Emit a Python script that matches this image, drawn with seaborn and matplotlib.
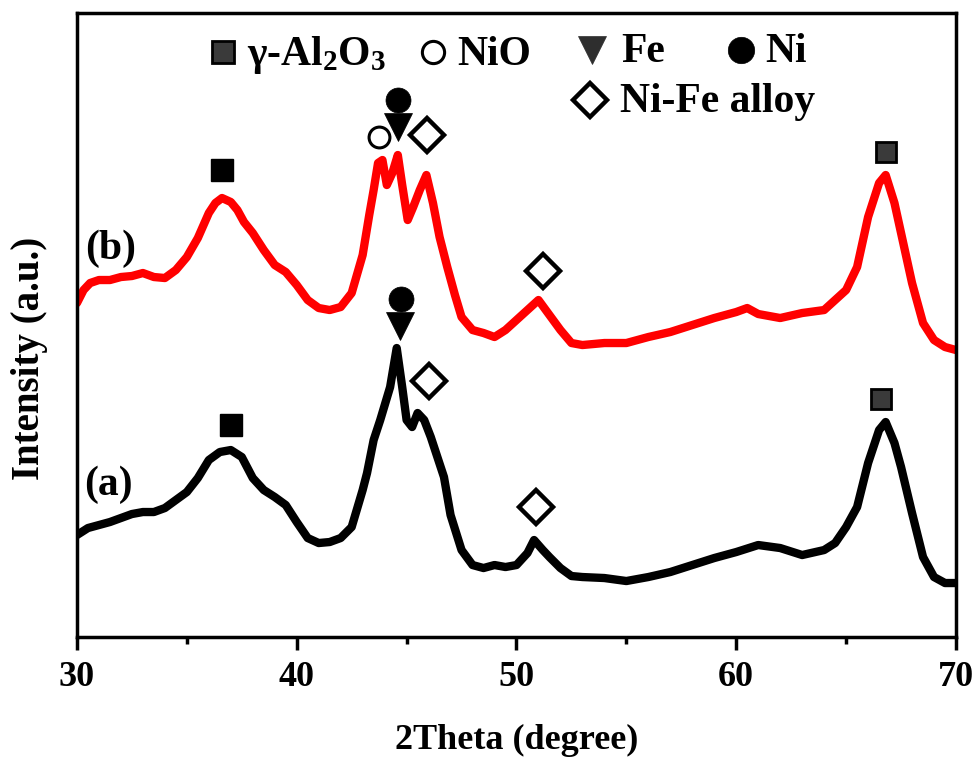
import numpy as np
import pandas as pd
import matplotlib
matplotlib.use("Agg")
import matplotlib.pyplot as plt
import seaborn as sns

# ---------------- data ----------------
two_theta_b = [30.0, 30.3, 30.6, 31.0, 31.5, 32.0, 32.5, 33.0, 33.5, 34.0, 34.5, 35.0, 35.5,
               36.0, 36.3, 36.6, 37.0, 37.3, 37.6, 38.0, 38.5, 39.0, 39.5, 40.0, 40.5, 41.0,
               41.5, 42.0, 42.5, 43.0, 43.3, 43.5, 43.7, 43.9, 44.1, 44.35, 44.6, 44.8, 45.05,
               45.3, 45.6, 45.9, 46.2, 46.5, 46.85, 47.2, 47.5, 48.0, 48.5, 49.0, 49.5, 50.0,
               50.5, 51.0, 51.5, 52.0, 52.5, 53.0, 54.0, 55.0, 56.0, 57.0, 58.0, 59.0, 60.0,
               60.5, 61.0, 62.0, 63.0, 64.0, 64.5, 65.0, 65.5, 66.0, 66.5, 66.8, 67.2, 67.5,
               68.0, 68.5, 69.0, 69.5, 70.0]
intensity_b = [334, 347, 354, 357, 357, 360, 361, 364, 360, 359, 367, 380, 399,
               424, 434, 439, 435, 427, 415, 404, 387, 372, 365, 352, 337, 329,
               327, 330, 344, 382, 422, 447, 474, 477, 452, 464, 482, 452, 417,
               430, 447, 462, 434, 400, 370, 342, 320, 307, 304, 300, 307, 317,
               327, 337, 322, 307, 294, 292, 294, 294, 300, 305, 312, 319, 325,
               329, 323, 319, 324, 327, 337, 347, 370, 420, 454, 462, 434, 404,
               354, 314, 297, 290, 287]

two_theta_a = [30.0, 30.5, 31.0, 31.5, 32.0, 32.5, 33.0, 33.5, 34.0, 34.5, 35.0, 35.5, 36.0,
               36.5, 37.0, 37.5, 38.0, 38.5, 39.0, 39.5, 40.0, 40.5, 41.0, 41.5, 42.0, 42.5,
               43.0, 43.2, 43.5, 43.8, 44.25, 44.55, 44.8, 45.0, 45.25, 45.5, 45.8, 46.1, 46.4,
               46.7, 47.0, 47.5, 48.0, 48.5, 49.0, 49.5, 50.0, 50.5, 50.8, 51.2, 51.5, 52.0,
               52.5, 53.0, 54.0, 55.0, 56.0, 57.0, 58.0, 59.0, 60.0, 61.0, 62.0, 63.0, 64.0,
               64.5, 65.0, 65.5, 66.0, 66.5, 66.8, 67.2, 67.5, 68.0, 68.5, 69.0, 69.5, 70.0]
intensity_a = [102, 109, 112, 115, 119, 123, 125, 125, 129, 137, 145, 159, 177,
               185, 187, 180, 159, 147, 140, 132, 115, 99, 94, 95, 99, 110,
               147, 164, 197, 217, 250, 289, 250, 217, 210, 224, 217, 200, 180,
               160, 122, 87, 72, 69, 72, 70, 72, 84, 97, 87, 80, 69,
               61, 60, 59, 56, 60, 65, 72, 79, 85, 92, 89, 82, 87,
               94, 110, 130, 174, 207, 215, 194, 170, 124, 80, 60, 54, 54]

# phase markers placed above the peaks: (phase, 2theta, height)
marks_b_phase = ["Al2O3_dark", "NiO", "Fe", "Ni", "alloy", "alloy", "Al2O3"]
marks_b_x = [36.6, 43.76, 44.6, 44.6, 45.95, 51.2, 66.8]
marks_b_y = [467, 500, 510, 537, 502, 366, 485]

marks_a_phase = ["Al2O3_dark", "Ni", "Fe", "alloy", "alloy", "Al2O3"]
marks_a_x = [37.0, 44.75, 44.7, 46.0, 50.87, 66.6]
marks_a_y = [212, 338, 311, 256, 130, 238]

legend_labels = [r"γ-Al$_\mathbf{2}$O$_\mathbf{3}$", "NiO", "Fe", "Ni", "Ni-Fe alloy"]
pattern_labels = ["(b)", "(a)"]
x_ticks = [30, 40, 50, 60, 70]

# ---------------- styling ----------------
sns.set_style("ticks")
plt.rcParams["font.family"] = ["Liberation Serif", "DejaVu Serif"]
plt.rcParams["font.weight"] = "bold"
plt.rcParams["mathtext.fontset"] = "custom"
plt.rcParams["mathtext.rm"] = "Liberation Serif:bold"
plt.rcParams["mathtext.bf"] = "Liberation Serif:bold"
plt.rcParams["mathtext.it"] = "Liberation Serif:bold"
for key in ["text.color", "axes.labelcolor", "xtick.color", "ytick.color",
            "axes.edgecolor", "xtick.labelcolor", "ytick.labelcolor"]:
    plt.rcParams[key] = "black"

marker_style = {
    "Al2O3_dark": dict(marker="s", ms=16, mfc="black", mec="black", mew=1.0),
    "Al2O3": dict(marker="s", ms=15, mfc="#3a3a3a", mec="black", mew=2.0),
    "NiO": dict(marker="o", ms=15, mfc="white", mec="black", mew=2.2),
    "Fe": dict(marker="v", ms=20, mfc="black", mec="black", mew=0.5),
    "Ni": dict(marker="o", ms=18, mfc="black", mec="black", mew=0.5),
    "alloy": dict(marker="D", ms=17, mfc="white", mec="black", mew=3.2),
}

fig = plt.figure(figsize=(9.78, 7.61), dpi=100)
ax = fig.add_axes([0.0787, 0.1629, 0.8988, 0.8200])

df_a = pd.DataFrame({"2theta": two_theta_a, "I": intensity_a})
df_b = pd.DataFrame({"2theta": two_theta_b, "I": intensity_b})
sns.lineplot(data=df_b, x="2theta", y="I", ax=ax, color="#ff0000", lw=6,
             estimator=None, sort=False)
sns.lineplot(data=df_a, x="2theta", y="I", ax=ax, color="black", lw=6,
             estimator=None, sort=False)

for ph, xv, yv in zip(marks_b_phase + marks_a_phase, marks_b_x + marks_a_x,
                      marks_b_y + marks_a_y):
    ax.plot([xv], [yv], ls="none", zorder=5, **marker_style[ph])

ax.set_xlim(30, 70)
ax.set_ylim(0, 624)
ax.set_xticks(x_ticks)
ax.set_xticks([35, 45, 55, 65], minor=True)
ax.set_yticks([])
ax.tick_params(axis="x", which="major", direction="out", length=9, width=2.5,
               labelsize=26, pad=8, color="black", labelcolor="black")
ax.tick_params(axis="x", which="minor", direction="out", length=5, width=2.5,
               color="black")
for lab in ax.get_xticklabels():
    lab.set_fontweight("bold")
for sp in ax.spines.values():
    sp.set_visible(True)
    sp.set_linewidth(2.5)
    sp.set_color("black")

ax.set_xlabel("2Theta (degree)", fontsize=26, fontweight="bold", color="black")
ax.xaxis.set_label_coords(0.5, -0.14)
ax.set_ylabel("Intensity (a.u.)", fontsize=28, fontweight="bold", color="black")
ax.yaxis.set_label_coords(-0.033, 0.447)

# pattern labels
ax.text(0.0387, 0.623, pattern_labels[0], transform=ax.transAxes, fontsize=30,
        fontweight="bold", ha="center", va="center", color="black")
ax.text(0.036, 0.244, pattern_labels[1], transform=ax.transAxes, fontsize=30,
        fontweight="bold", ha="center", va="center", color="black")

# legend drawn in axes fraction
leg_keys = ["Al2O3", "NiO", "Fe", "Ni", "alloy"]
leg_mx = [0.166, 0.405, 0.586, 0.755, 0.584]
leg_my = [0.9375, 0.9375, 0.941, 0.941, 0.861]
leg_tx = [0.193, 0.433, 0.619, 0.783, 0.618]
leg_sizes = {"Al2O3": 16, "NiO": 16, "Fe": 20, "Ni": 19, "alloy": 17}
for k, mx, my, tx, lab in zip(leg_keys, leg_mx, leg_my, leg_tx, legend_labels):
    st = dict(marker_style[k])
    st["ms"] = leg_sizes[k]
    if k == "Fe":
        st["mfc"] = "#2e2e2e"
        st["mec"] = "#2e2e2e"
    ax.plot([mx], [my], transform=ax.transAxes, ls="none", clip_on=False, **st)
    ax.text(tx, my - 0.004, lab, transform=ax.transAxes, fontsize=30,
            fontweight="bold", ha="left", va="center", color="black")

fig.savefig("out.png", dpi=100)
